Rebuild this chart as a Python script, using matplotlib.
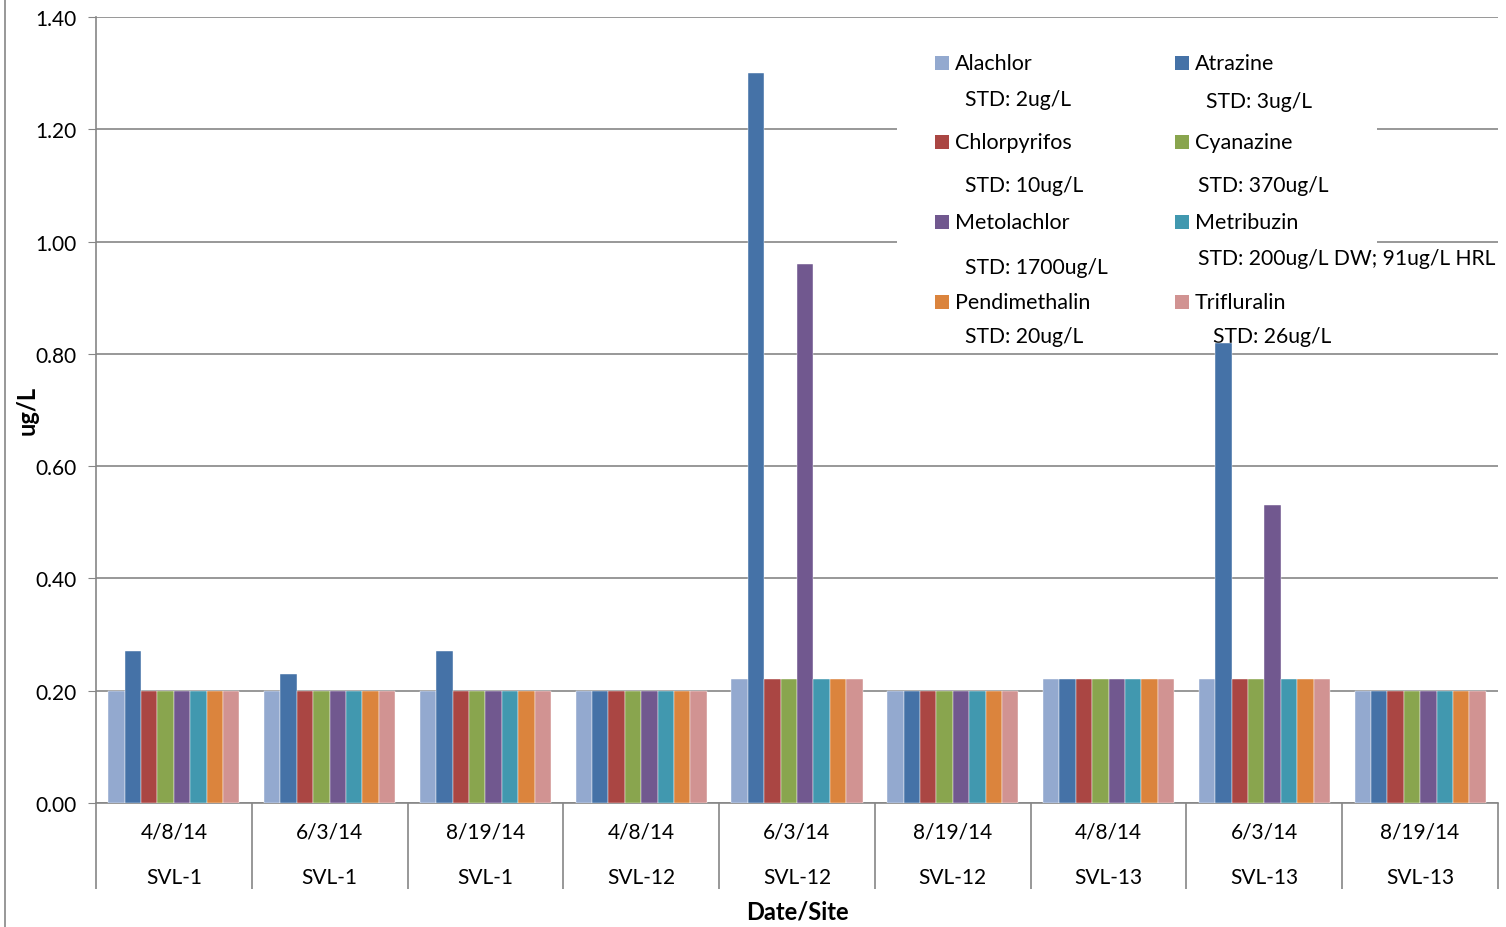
import matplotlib as mpl
mpl.use("Agg")
import matplotlib.pyplot as plt
from matplotlib.patches import Rectangle
import numpy as np

plt.rcParams["font.family"] = ["Lato", "DejaVu Sans"]

# data
dates = ["4/8/14", "6/3/14", "8/19/14"] * 3
sites = ["SVL-1"] * 3 + ["SVL-12"] * 3 + ["SVL-13"] * 3
series_names = ["Alachlor", "Atrazine", "Chlorpyrifos", "Cyanazine",
                "Metolachlor", "Metribuzin", "Pendimethalin", "Trifluralin"]
std_labels = ["STD: 2ug/L", "STD: 3ug/L", "STD: 10ug/L", "STD: 370ug/L",
              "STD: 1700ug/L", "STD: 200ug/L DW; 91ug/L HRL",
              "STD: 20ug/L", "STD: 26ug/L"]
alachlor = [0.20, 0.20, 0.20, 0.20, 0.22, 0.20, 0.22, 0.22, 0.20]
atrazine = [0.27, 0.23, 0.27, 0.20, 1.30, 0.20, 0.22, 0.82, 0.20]
chlorpyrifos = [0.20, 0.20, 0.20, 0.20, 0.22, 0.20, 0.22, 0.22, 0.20]
cyanazine = [0.20, 0.20, 0.20, 0.20, 0.22, 0.20, 0.22, 0.22, 0.20]
metolachlor = [0.20, 0.20, 0.20, 0.20, 0.96, 0.20, 0.22, 0.53, 0.20]
metribuzin = [0.20, 0.20, 0.20, 0.20, 0.22, 0.20, 0.22, 0.22, 0.20]
pendimethalin = [0.20, 0.20, 0.20, 0.20, 0.22, 0.20, 0.22, 0.22, 0.20]
trifluralin = [0.20, 0.20, 0.20, 0.20, 0.22, 0.20, 0.22, 0.22, 0.20]

values = [alachlor, atrazine, chlorpyrifos, cyanazine,
          metolachlor, metribuzin, pendimethalin, trifluralin]
colors = ["#93A9CF", "#4572A7", "#AA4643", "#89A54E",
          "#71588F", "#4198AF", "#DB843D", "#D19392"]

W, H = 1506, 928
grid_c = "#868686"

fig = plt.figure(figsize=(W / 100, H / 100), dpi=100)
ax = fig.add_axes([96 / W, 1 - 804 / H, (1498 - 96) / W, (804 - 18) / H])

n = len(series_names)
x = np.arange(len(dates))
w = 1 / (n + 1.5)
for i, (vals, col) in enumerate(zip(values, colors)):
    ax.bar(x + (i - (n - 1) / 2) * w, vals, width=w, color=col,
           edgecolor="white", linewidth=0.3, zorder=3)

ax.set_xlim(-0.5, len(dates) - 0.5)
ax.set_ylim(0, 1.4)
ax.set_yticks(np.arange(0, 1.41, 0.2))
ax.set_yticklabels([f"{v:.2f}" for v in np.arange(0, 1.41, 0.2)], fontsize=15)
ax.tick_params(axis="y", length=6, color=grid_c, pad=8)
ax.set_xticks([])
ax.yaxis.grid(True, color=grid_c, linewidth=1.2, zorder=0)
ax.set_axisbelow(True)
for s in ["top", "right"]:
    ax.spines[s].set_visible(False)
for s in ["left", "bottom"]:
    ax.spines[s].set_color(grid_c)
    ax.spines[s].set_linewidth(1.2)

# two-level category axis
tr = ax.get_xaxis_transform()
ax.vlines(np.arange(len(dates) + 1) - 0.5, -(890 - 804) / 786, 0,
          transform=tr, color=grid_c, linewidth=1.2, clip_on=False)
for xi, d, s in zip(x, dates, sites):
    ax.text(xi, -(833 - 804) / 786, d, transform=tr, ha="center",
            va="center", fontsize=15)
    ax.text(xi, -(878 - 804) / 786, s, transform=tr, ha="center",
            va="center", fontsize=15)

fig.text(797 / W, 1 - 912 / H, "Date/Site", ha="center", va="center",
         fontsize=17, fontweight="bold")
fig.text(27 / W, 1 - 410 / H, "ug/L", ha="center", va="center",
         fontsize=17, fontweight="bold", rotation=90)

# chart border on the left
fig.add_artist(plt.Line2D([5 / W, 5 / W], [0, 1], color=grid_c, linewidth=1.2))

# legend drawn by hand, Excel style (bars sit on top of it)
ftr = fig.transFigure
ax.add_patch(Rectangle((897 / W, 1 - 350 / H), (1377 - 897) / W, (350 - 24) / H,
                       transform=ftr, facecolor="white", edgecolor="none",
                       zorder=1, clip_on=False))
name_y = [64, 64, 143, 143, 223, 223, 303, 303]
std_pos = [(965, 100), (1206, 102), (965, 186), (1198, 186),
           (965, 268), (1198, 259), (965, 337), (1213, 337)]
for i, name in enumerate(series_names):
    col_x = 935 if i % 2 == 0 else 1175
    yy = name_y[i]
    ax.add_patch(Rectangle((col_x / W, 1 - (yy + 7) / H), 14 / W, 14 / H,
                           transform=ftr, facecolor=colors[i],
                           edgecolor="none", zorder=2, clip_on=False))
    ax.text((col_x + 20) / W, 1 - yy / H, name, transform=ftr, ha="left",
            va="center", fontsize=15.5, zorder=2, clip_on=False)
    sx, sy = std_pos[i]
    ax.text(sx / W, 1 - sy / H, std_labels[i], transform=ftr, ha="left",
            va="center", fontsize=15.2, zorder=2, clip_on=False)

fig.savefig("out.png", dpi=100)
